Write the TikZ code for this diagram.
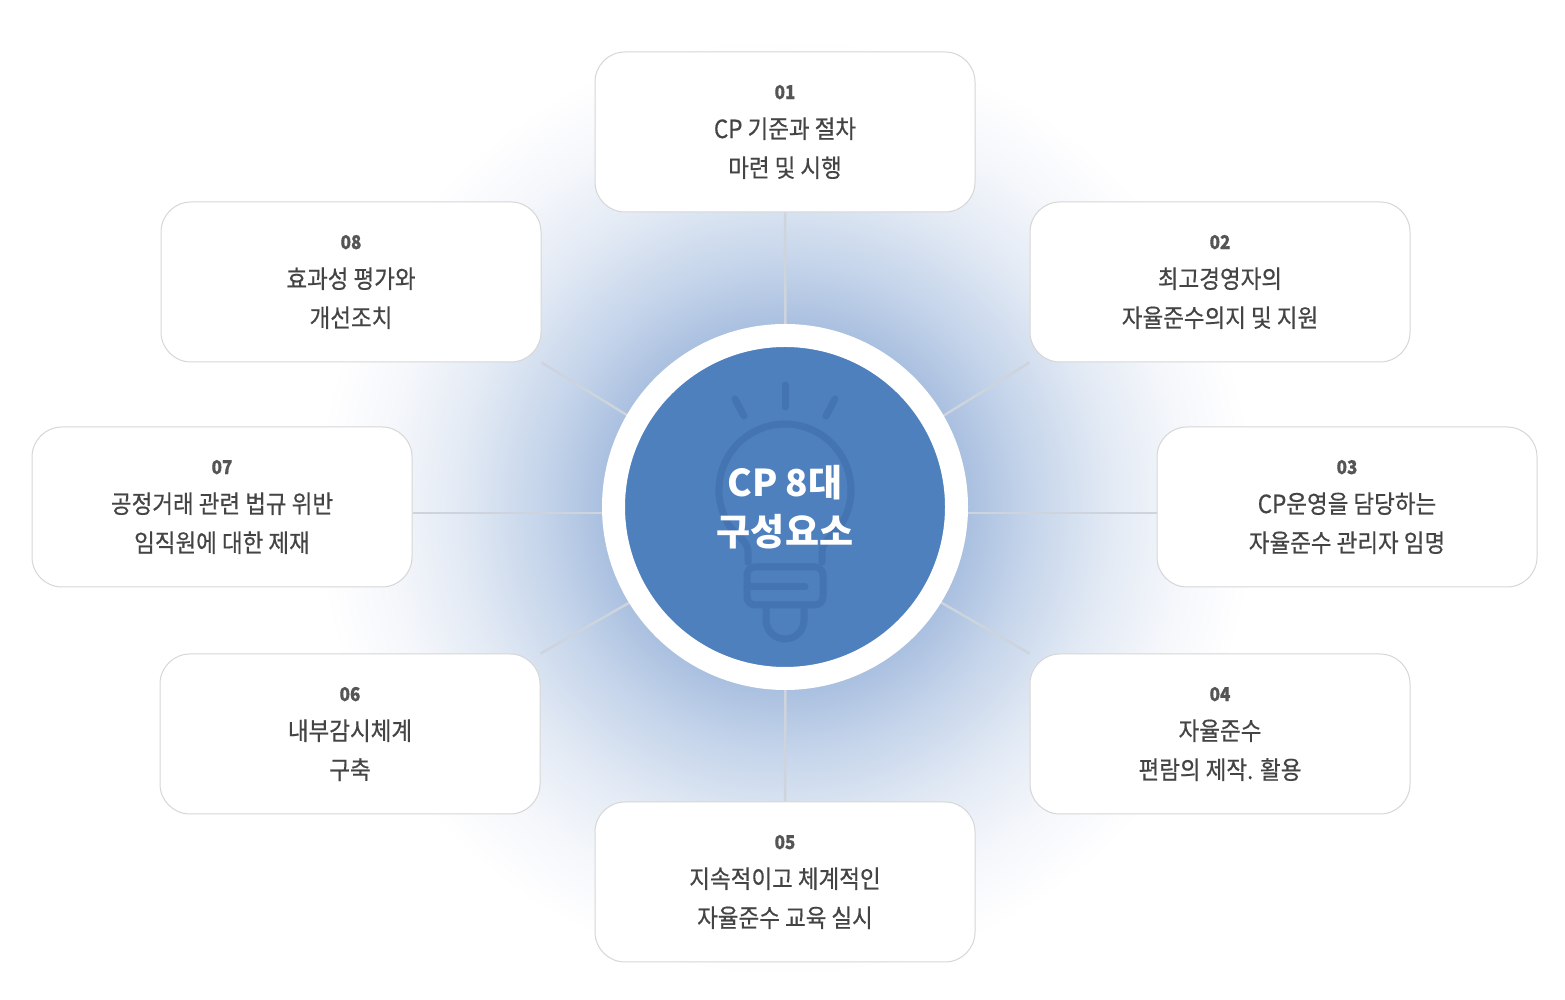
\documentclass[tikz,border=0pt]{standalone}
\usepackage{fontspec}
\setmainfont{Noto Sans CJK KR}
\newfontfamily\itemfont{Noto Sans CJK KR}[FakeStretch=0.9, FakeBold=0.5]
\usetikzlibrary{backgrounds}
\definecolor{boxline}{HTML}{D6D6D6}
\definecolor{spokec}{HTML}{CDD4DD}
\definecolor{itemtext}{HTML}{444444}
\definecolor{numc}{HTML}{555555}
\definecolor{corec}{HTML}{4E80BE}
\definecolor{bulbc}{HTML}{4474B2}
\definecolor{glowA}{HTML}{AAC0E0}
\definecolor{glowB}{HTML}{C7D6EB}
\definecolor{glowC}{HTML}{E4EBF5}
\definecolor{glowD}{HTML}{F5F7FB}
\pgfdeclareradialshading{glow}{\pgfpoint{0bp}{0bp}}{color(0bp)=(glowA); color(9.7bp)=(glowA); color(13.3bp)=(glowB); color(17.6bp)=(glowC); color(21.3bp)=(glowD); color(25bp)=(white); color(50bp)=(white)}
\newcommand{\itemnum}[1]{{\fontsize{19}{39}\selectfont\bfseries\color{numc}#1}}
\tikzset{
 itembox/.style={draw=boxline, line width=1pt, fill=white, rounded corners=30pt, minimum width=380pt, minimum height=160pt, inner sep=0pt, align=center, text=itemtext, font={\itemfont\fontsize{25}{39}\selectfont}},
 spoke/.style={draw=spokec, line width=2.5pt},
 bulb/.style={draw=bulbc, line width=7pt, line cap=round, line join=round}
}
\begin{document}
\begin{tikzpicture}[x=1pt, y=1pt]
 \useasboundingbox (0,0) rectangle (1565,1000);
 \coordinate (hub) at (786,487);
 \node[itembox] (b1) at (785,868) {\itemnum{01}\\CP 기준과 절차\\마련 및 시행};
 \node[itembox] (b2) at (1220,718) {\itemnum{02}\\최고경영자의\\자율준수의지 및 지원};
 \node[itembox] (b3) at (1347,493) {\itemnum{03}\\CP운영을 담당하는\\자율준수 관리자 임명};
 \node[itembox] (b4) at (1220,266) {\itemnum{04}\\자율준수\\편람의 제작. 활용};
 \node[itembox] (b5) at (785,118) {\itemnum{05}\\지속적이고 체계적인\\자율준수 교육 실시};
 \node[itembox] (b6) at (350,266) {\itemnum{06}\\내부감시체계\\구축};
 \node[itembox] (b7) at (222,493) {\itemnum{07}\\공정거래 관련 법규 위반\\임직원에 대한 제재};
 \node[itembox] (b8) at (351,718) {\itemnum{08}\\효과성 평가와\\개선조치};
 \node[circle, fill=corec, draw=white, line width=23pt, minimum size=343pt, inner sep=0pt] (ctr) at (785,493) {};
 % light bulb
 \begin{scope}[shift={(ctr)}]
  \draw[bulb] (0,122) -- (0,100);
  \draw[bulb] (-50,108) -- (-41,91);
  \draw[bulb] (50,108) -- (41,91);
  \draw[bulb] (-37,-55) -- (-37,-45) .. controls (-37,-35) and (-46,-30) .. (-54.1,-20.9)
   arc[start angle=215, end angle=-35, radius=66] .. controls (46,-30) and (37,-35) .. (37,-45) -- (37,-55);
  \draw[bulb, rounded corners=8pt] (-38,-60) rectangle (38,-98);
  \draw[bulb] (-38,-80) -- (20,-80);
  \draw[bulb] (-19,-98) -- (-19,-113) arc[start angle=180, end angle=360, radius=19] -- (19,-98);
 \end{scope}
 \node[text=white, align=center, font={\fontsize{37}{49}\selectfont\bfseries}] (core) at (ctr) {CP 8대\\구성요소};
 \begin{scope}[on background layer]
  \shade[shading=glow] (ctr) circle (470);
  \foreach \b/\a in {b1/south, b2/south west, b4/north west, b5/north, b6/north east, b8/south east}
  {
      \draw[spoke] (hub) -- (\b.\a);
  }
  \foreach \b/\a in {b3/west, b7/east}
  {
      \draw[spoke] (hub) -- (hub -| \b.\a);
  }
 \end{scope}
\end{tikzpicture}
\end{document}
